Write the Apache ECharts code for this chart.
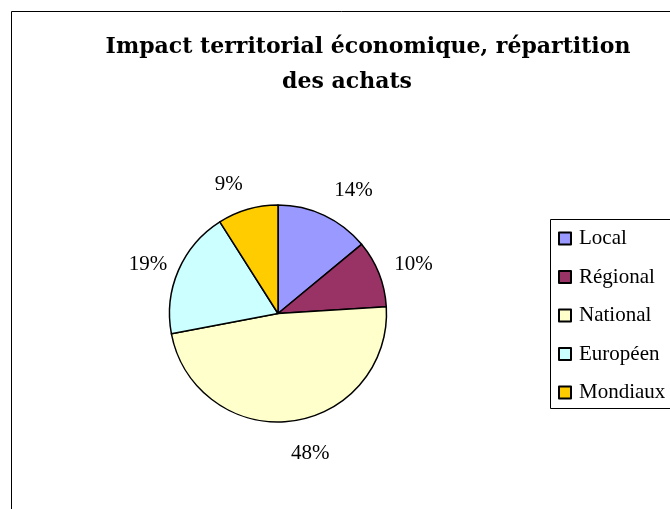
<!DOCTYPE html>
<html>
<head>
<meta charset="utf-8">
<script src="https://cdn.jsdelivr.net/npm/echarts@6/dist/echarts.min.js"></script>
<style>
html,body{margin:0;padding:0;background:#fff;}
#c{width:670px;height:509px;}
</style>
</head>
<body>
<div id="c"></div>
<script>
const titleLines = ['Impact territorial économique, répartition', 'des achats'];
const categories = ['Local', 'Régional', 'National', 'Européen', 'Mondiaux'];
const values = [14, 10, 48, 19, 9];
const colors = ['#9999FF', '#993366', '#FFFFCC', '#CCFFFF', '#FFCC00'];
const labelOffsets = [[15.5, 5], [4.5, 3], [14.5, 0], [-0.5, 7], [-10, 6.5]];

const FONT = '"Liberation Serif", "Times New Roman", serif';
const TFONT = '"DejaVu Serif", serif';
const chart = echarts.init(document.getElementById('c'), null, {renderer: 'canvas'});

const pieData = categories.map((n, i) => ({
  name: n, value: values[i],
  itemStyle: {color: colors[i]}
}));
const labelData = categories.map((n, i) => ({
  name: n, value: values[i],
  label: {offset: labelOffsets[i]}
}));

chart.setOption({
  animation: false,
  backgroundColor: '#ffffff',
  title: [
    {text: titleLines[0], left: 363, top: 31, textAlign: 'center',
     textStyle: {fontFamily: TFONT, fontSize: 22, fontWeight: 'bold', color: '#000'}},
    {text: titleLines[1], left: 342, top: 66, textAlign: 'center',
     textStyle: {fontFamily: TFONT, fontSize: 22, fontWeight: 'bold', color: '#000'}}
  ],
  graphic: [
    {type: 'rect', shape: {x: 11.5, y: 11.5, width: 700, height: 600},
     style: {fill: 'none', stroke: '#000', lineWidth: 1}, z: 0},
    {type: 'rect', shape: {x: 550.5, y: 219.5, width: 200, height: 189},
     style: {fill: '#fff', stroke: '#000', lineWidth: 1}, z: 1}
  ],
  legend: {
    orient: 'vertical',
    left: 558, top: 228,
    padding: 0,
    itemWidth: 12, itemHeight: 12,
    itemGap: 17.5,
    icon: 'rect',
    data: categories,
    textStyle: {fontFamily: FONT, fontSize: 21, color: '#000', lineHeight: 20, padding: [0, 0, 0, 3]},
    z: 5
  },
  series: [
    {
      type: 'pie',
      center: [278, 313.5],
      radius: 108.5,
      startAngle: 90,
      clockwise: true,
      data: pieData,
      label: {show: false},
      labelLine: {show: false},
      itemStyle: {borderColor: '#000', borderWidth: 1.5},
      emphasis: {disabled: true},
      z: 2
    },
    {
      type: 'pie',
      center: [278, 313.5],
      radius: [128, 148],
      startAngle: 90,
      clockwise: true,
      silent: true,
      legendHoverLink: false,
      data: labelData,
      itemStyle: {color: 'rgba(0,0,0,0)', borderWidth: 0},
      label: {show: true, position: 'inside', formatter: '{c}%',
              fontFamily: FONT, fontSize: 21, color: '#000'},
      labelLine: {show: false},
      emphasis: {disabled: true},
      z: 3
    }
  ]
});
</script>
</body>
</html>
